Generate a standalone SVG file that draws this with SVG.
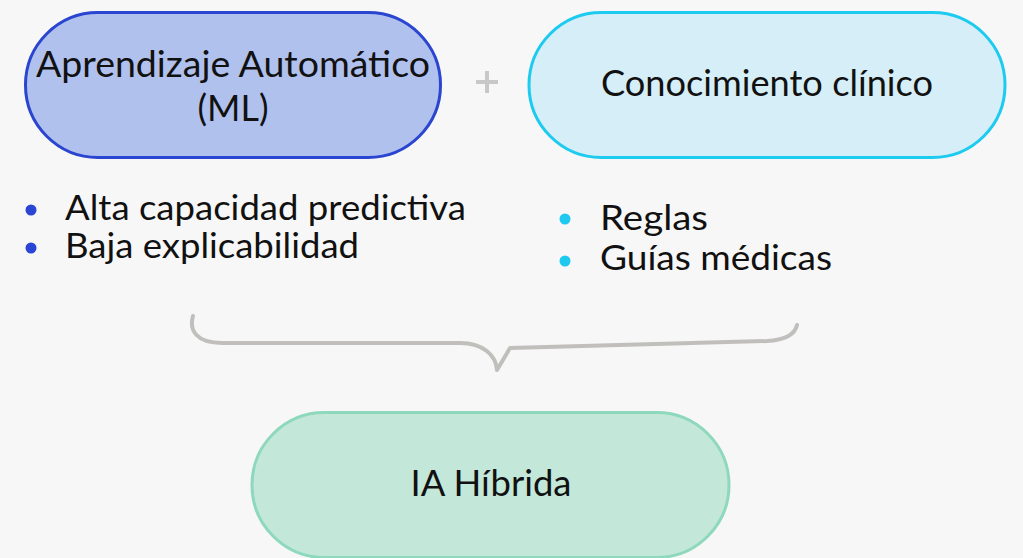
<svg xmlns="http://www.w3.org/2000/svg" width="1023" height="558" viewBox="0 0 1023 558">
<style>
text{font-family:Lato,"Noto Sans","Open Sans",sans-serif;fill:#111;}
.lbl{font-size:36px;text-anchor:middle;}
.bul{font-size:35px;}
.brace{fill:none;stroke:#c0bfbc;stroke-width:4;stroke-linecap:round;stroke-linejoin:round;}
</style>
<rect x="0" y="0" width="1023" height="558" fill="#f7f7f7"/>
<g id="connectors">
<path class="brace" d="M193,316 C189,330 196,343 222,343 L460,343 C484,343 496,356 497,370 L510,348 L767,341 C785,340 795,334 797,325"/>
<path d="M487,71 V93 M476,82 H498" stroke="#c8c8c8" stroke-width="4" fill="none"/>
</g>
<g id="node-ml">
<rect x="25.5" y="12.5" width="415" height="145" rx="72.5" fill="#b1c1ee" stroke="#2a45cf" stroke-width="3"/>
<text class="lbl" x="233" y="77" textLength="394" lengthAdjust="spacingAndGlyphs">Aprendizaje Automático</text>
<text class="lbl" x="233" y="121">(ML)</text>
</g>
<g id="node-clinico">
<rect x="529" y="12.5" width="476" height="145" rx="72.5" fill="#d6eef8" stroke="#1ccbef" stroke-width="3"/>
<text class="lbl" x="767" y="96" textLength="332" lengthAdjust="spacingAndGlyphs">Conocimiento clínico</text>
</g>
<g id="list-ml">
<circle cx="31" cy="210" r="5.5" fill="#2a45d6"/>
<circle cx="31" cy="248" r="5.5" fill="#2a45d6"/>
<text class="bul" x="65" y="220" textLength="401" lengthAdjust="spacingAndGlyphs">Alta capacidad predictiva</text>
<text class="bul" x="65" y="258" textLength="294" lengthAdjust="spacingAndGlyphs">Baja explicabilidad</text>
</g>
<g id="list-clinico">
<circle cx="565" cy="219" r="5.5" fill="#1ec8ee"/>
<circle cx="565" cy="261" r="5.5" fill="#1ec8ee"/>
<text class="bul" x="600" y="230" textLength="108" lengthAdjust="spacingAndGlyphs">Reglas</text>
<text class="bul" x="600" y="270" textLength="232" lengthAdjust="spacingAndGlyphs">Guías médicas</text>
</g>
<g id="node-hibrida">
<rect x="252" y="412.5" width="477" height="145" rx="72.5" fill="#c3e8d9" stroke="#8ed8bd" stroke-width="3"/>
<text class="lbl" x="491" y="496" textLength="161" lengthAdjust="spacingAndGlyphs">IA Híbrida</text>
</g>
</svg>
